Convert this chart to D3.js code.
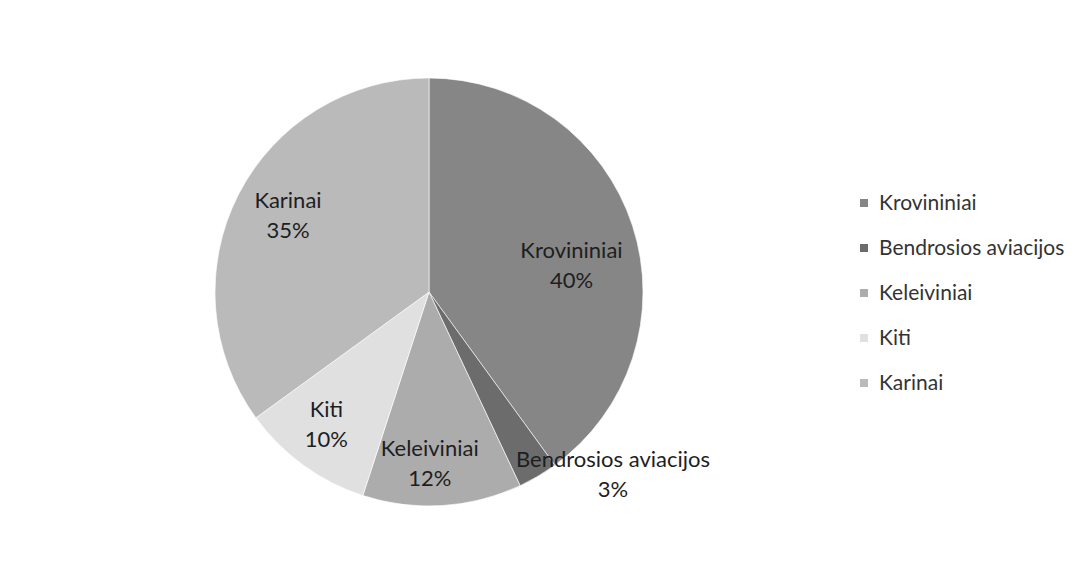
<!DOCTYPE html>
<html>
<head>
<meta charset="utf-8">
<script src="https://cdn.jsdelivr.net/npm/d3@7"></script>
<style>
  body { margin: 0; background: #fff; }
  svg { display: block; font-family: Lato, "Open Sans", sans-serif; }
</style>
</head>
<body>
<svg id="chart" width="1082" height="562"></svg>
<script>
const categories = ["Krovininiai", "Bendrosios aviacijos", "Keleiviniai", "Kiti", "Karinai"];
const values = [40, 3, 12, 10, 35];
const colors = ["#868686", "#6c6c6c", "#acacac", "#e0e0e0", "#bababa"];

// label placement: radius factor + small nudge (Excel "best fit" look)
const labelRadius = [0.7, 1.12, 0.8, 0.8, 0.75];
const labelNudge = [[0, 19], [62, -24], [-10, 0], [-2, -7], [2, -4]];

const cx = 429, cy = 292, r = 214;
const svg = d3.select("#chart");

const data = categories.map((c, i) => ({ name: c, value: values[i], color: colors[i], i }));

const pie = d3.pie().value(d => d.value).sort(null);
const arcs = pie(data);
const arc = d3.arc().innerRadius(0).outerRadius(r);

const g = svg.append("g").attr("transform", `translate(${cx},${cy})`);

g.selectAll("path")
  .data(arcs)
  .join("path")
  .attr("d", arc)
  .attr("fill", d => d.data.color)
  .attr("stroke", "#fff")
  .attr("stroke-width", 0.6);

const labels = g.selectAll("text.lbl")
  .data(arcs)
  .join("text")
  .attr("class", "lbl")
  .attr("text-anchor", "middle")
  .attr("font-size", 22)
  .attr("fill", "#1e1e1e")
  .attr("transform", d => {
    const lr = r * labelRadius[d.data.i];
    const [x, y] = d3.arc().innerRadius(lr).outerRadius(lr).centroid(d);
    const [nx, ny] = labelNudge[d.data.i];
    return `translate(${x + nx},${y + ny})`;
  });

labels.append("tspan").attr("x", 0).attr("dy", -7).text(d => d.data.name);
labels.append("tspan").attr("x", 0).attr("dy", 30).text(d => d.data.value + "%");

// legend
const legend = svg.append("g").attr("transform", "translate(860,203)");
const item = legend.selectAll("g")
  .data(data)
  .join("g")
  .attr("transform", (d, i) => `translate(0,${i * 45})`);

item.append("rect")
  .attr("x", 0).attr("y", -4)
  .attr("width", 8).attr("height", 8)
  .attr("fill", d => d.color);

item.append("text")
  .attr("x", 19).attr("y", 0)
  .attr("dy", "0.35em")
  .attr("font-size", 21)
  .attr("fill", "#333")
  .text(d => d.name);
</script>
</body>
</html>
